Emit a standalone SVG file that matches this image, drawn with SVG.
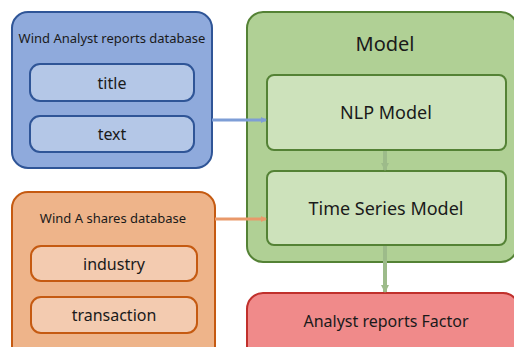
<svg xmlns="http://www.w3.org/2000/svg" width="514" height="347" viewBox="0 0 514 347">
<style>
text{font-family:"Noto Sans","Open Sans","DejaVu Sans",sans-serif;text-anchor:middle;dominant-baseline:central;fill:#1a1a1a}
.blue{fill:#8faadc;stroke:#2f5597;stroke-width:2}
.bluei{fill:#b4c7e7;stroke:#2f5597;stroke-width:2}
.orange{fill:#eeb48a;stroke:#c55a11;stroke-width:2}
.orangei{fill:#f3cbb0;stroke:#c55a11;stroke-width:2}
.green{fill:#b0d095;stroke:#548235;stroke-width:2}
.greeni{fill:#cde2bb;stroke:#548235;stroke-width:2}
.red{fill:#f08a8a;stroke:#c0302c;stroke-width:2}
.t13{font-size:13px}
.t16{font-size:16px}
.t18{font-size:18px}
.t20{font-size:20px}
</style>
<defs>
<marker id="ab" viewBox="0 0 6 6" refX="5" refY="3" markerWidth="6" markerHeight="6" markerUnits="userSpaceOnUse" orient="auto"><path d="M0,0 L6,3 L0,6 z" fill="#7e9ed6"/></marker>
<marker id="ao" viewBox="0 0 6 6" refX="5" refY="3" markerWidth="6" markerHeight="6" markerUnits="userSpaceOnUse" orient="auto"><path d="M0,0 L6,3 L0,6 z" fill="#e9996a"/></marker>
<marker id="ag" viewBox="0 0 8 8" refX="7" refY="4" markerWidth="8" markerHeight="8" markerUnits="userSpaceOnUse" orient="auto"><path d="M0,0 L8,4 L0,8 z" fill="#9dbb8a"/></marker>
</defs>
<g id="wind-analyst">
<rect class="blue" x="12" y="12" width="200" height="156" rx="16"/>
<text class="t13" x="112" y="38">Wind Analyst reports database</text>
<g id="title"><rect class="bluei" x="30" y="64" width="164" height="37" rx="10"/><text class="t16" x="112" y="82.500">title</text></g>
<g id="text"><rect class="bluei" x="30" y="116" width="164" height="36" rx="10"/><text class="t16" x="112" y="134">text</text></g>
</g>
<g id="wind-a-shares">
<rect class="orange" x="12" y="192" width="203" height="170" rx="16"/>
<text class="t13" x="113" y="218">Wind A shares database</text>
<g id="industry"><rect class="orangei" x="31" y="246" width="166" height="35" rx="10"/><text class="t16" x="114" y="263.500">industry</text></g>
<g id="transaction"><rect class="orangei" x="31" y="297" width="166" height="36" rx="10"/><text class="t16" x="114" y="315">transaction</text></g>
</g>
<g id="model">
<rect class="green" x="247" y="12" width="270" height="250" rx="16"/>
<text class="t20" x="385" y="43">Model</text>
<g id="nlp-model"><rect class="greeni" x="267" y="75" width="239" height="75" rx="7"/><text class="t18" x="386" y="112">NLP Model</text></g>
<g id="time-series-model"><rect class="greeni" x="267" y="171" width="239" height="74" rx="7"/><text class="t18" x="386" y="208">Time Series Model</text></g>
</g>
<g id="factor">
<rect class="red" x="247" y="293" width="272" height="70" rx="16"/>
<text class="t16" x="386" y="321">Analyst reports Factor</text>
</g>
<g id="connectors" fill="none">
<line x1="212" y1="120" x2="266" y2="120" stroke="#7e9ed6" stroke-width="3" marker-end="url(#ab)"/>
<line x1="215" y1="219" x2="266" y2="219" stroke="#e9996a" stroke-width="3" marker-end="url(#ao)"/>
<line x1="385" y1="151" x2="385" y2="170" stroke="#9dbb8a" stroke-width="4" marker-end="url(#ag)"/>
<line x1="385" y1="246" x2="385" y2="292" stroke="#9dbb8a" stroke-width="4" marker-end="url(#ag)"/>
</g>
</svg>
